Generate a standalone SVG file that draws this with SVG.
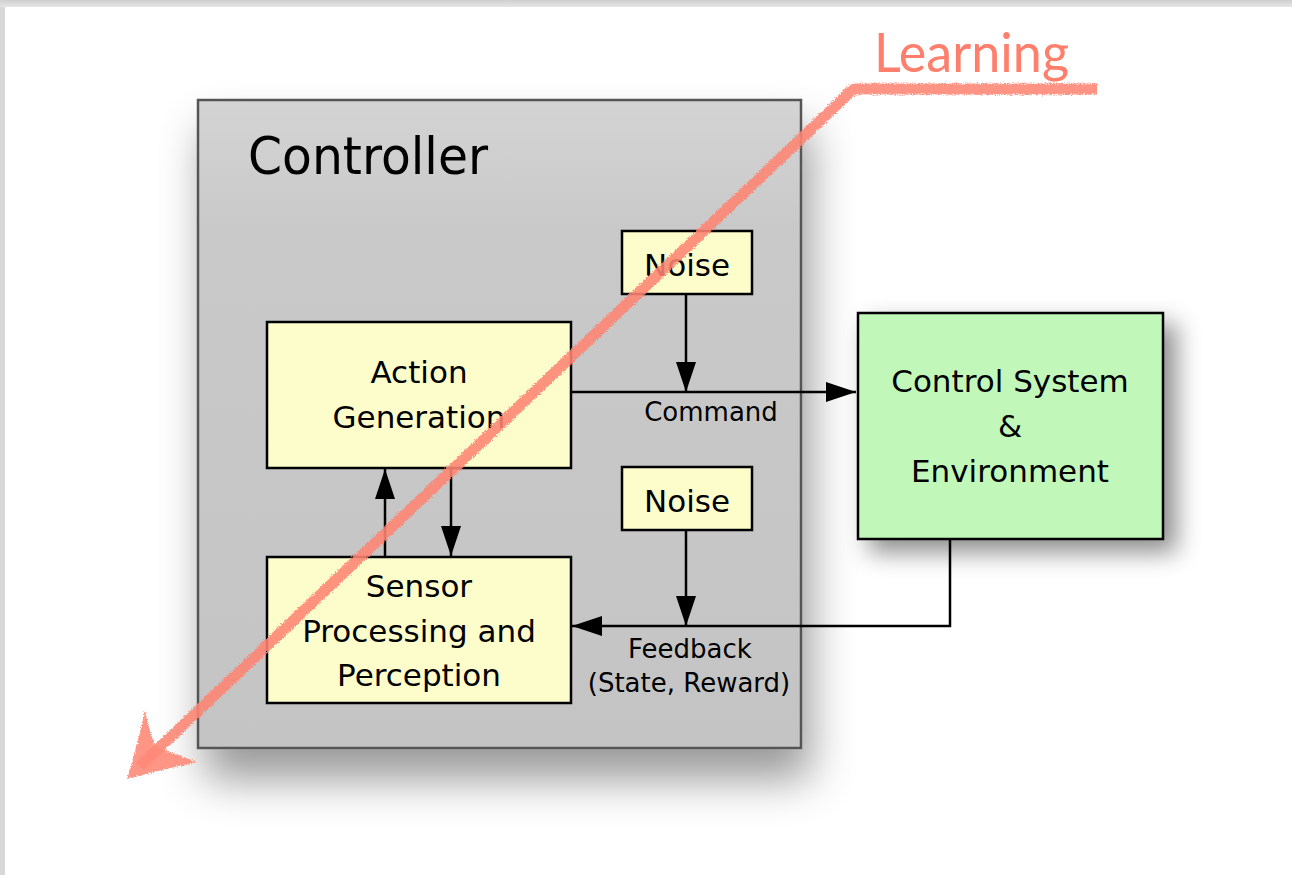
<svg xmlns="http://www.w3.org/2000/svg" width="1292" height="875" viewBox="0 0 1292 875">
  <defs>
    <linearGradient id="ctrlFill" x1="0" y1="0" x2="0" y2="1">
      <stop offset="0" stop-color="#d4d4d4"/>
      <stop offset="0.2" stop-color="#c9c9c9"/>
      <stop offset="1" stop-color="#c4c4c4"/>
    </linearGradient>
    <linearGradient id="topEdge" x1="0" y1="0" x2="0" y2="1">
      <stop offset="0" stop-color="#cfcfcf"/>
      <stop offset="1" stop-color="#e6e6e6"/>
    </linearGradient>
    <filter id="bigShadow" x="-20%" y="-20%" width="150%" height="150%">
      <feDropShadow dx="8" dy="30" stdDeviation="22" flood-color="#000" flood-opacity="0.4"/>
    </filter>
    <filter id="boxShadow" x="-20%" y="-20%" width="150%" height="150%">
      <feDropShadow dx="12" dy="12" stdDeviation="12" flood-color="#000" flood-opacity="0.45"/>
    </filter>
    <filter id="rough" x="-10%" y="-10%" width="120%" height="120%">
      <feTurbulence type="fractalNoise" baseFrequency="0.9" numOctaves="2" seed="3" result="n"/>
      <feDisplacementMap in="SourceGraphic" in2="n" scale="5" xChannelSelector="R" yChannelSelector="G"/>
    </filter>
    <marker id="arrow" viewBox="0 0 30 20" refX="30" refY="10" markerWidth="30" markerHeight="20" markerUnits="userSpaceOnUse" orient="auto">
      <path d="M0,0 L30,10 L0,20 Z" fill="#000"/>
    </marker>
    <style>
      .box { fill: #fdfdcc; stroke: #000; stroke-width: 2.5; }
      .lbl { font-family: "DejaVu Sans", "Liberation Sans", sans-serif; fill: #000; text-anchor: middle; }
      .big { font-size: 31px; }
      .small { font-size: 26px; }
      .conn { stroke: #000; stroke-width: 2.5; fill: none; }
      .brush { stroke: #ff8472; stroke-linecap: butt; stroke-linejoin: round; fill: none; opacity: 0.88; }
    </style>
  </defs>

  <!-- page -->
  <rect x="0" y="0" width="1292" height="875" fill="#d8d8d8"/>
  <rect x="0" y="0" width="1292" height="7" fill="url(#topEdge)"/>
  <rect x="5" y="7" width="1287" height="868" fill="#ffffff"/>

  <!-- Controller -->
  <g id="controller">
    <rect x="198" y="100" width="603" height="648" fill="url(#ctrlFill)" stroke="#555" stroke-width="2.5" filter="url(#bigShadow)"/>
    <text x="248" y="174" font-family="DejaVu Sans, Liberation Sans, sans-serif" font-size="52" textLength="240" lengthAdjust="spacingAndGlyphs" fill="#000">Controller</text>
  </g>

  <!-- Control System & Environment -->
  <g id="control-system">
    <rect x="858" y="313" width="305" height="226" fill="#c1f8b9" stroke="#000" stroke-width="2.5" filter="url(#boxShadow)"/>
    <text class="lbl big" x="1010" y="392">Control System</text>
    <text class="lbl big" x="1010" y="437">&amp;</text>
    <text class="lbl big" x="1010" y="482">Environment</text>
  </g>

  <g id="noise-top">
    <rect class="box" x="622" y="231" width="130" height="63"/>
    <text class="lbl big" x="687" y="276">Noise</text>
  </g>

  <g id="noise-bottom">
    <rect class="box" x="622" y="467" width="130" height="63"/>
    <text class="lbl big" x="687" y="512">Noise</text>
  </g>

  <g id="action-generation">
    <rect class="box" x="267" y="322" width="304" height="146"/>
    <text class="lbl big" x="419" y="383">Action</text>
    <text class="lbl big" x="419" y="428">Generation</text>
  </g>

  <g id="sensor-processing">
    <rect class="box" x="267" y="557" width="304" height="146"/>
    <text class="lbl big" x="419" y="597">Sensor</text>
    <text class="lbl big" x="419" y="642">Processing and</text>
    <text class="lbl big" x="419" y="686">Perception</text>
  </g>

  <!-- connectors -->
  <g id="connectors">
    <line class="conn" x1="571" y1="392" x2="856" y2="392" marker-end="url(#arrow)"/>
    <line class="conn" x1="686" y1="294" x2="686" y2="392" marker-end="url(#arrow)"/>
    <polyline class="conn" points="950,539 950,626 572,626" marker-end="url(#arrow)"/>
    <line class="conn" x1="686" y1="530" x2="686" y2="626" marker-end="url(#arrow)"/>
    <line class="conn" x1="385" y1="557" x2="385" y2="469" marker-end="url(#arrow)"/>
    <line class="conn" x1="451" y1="468" x2="451" y2="556" marker-end="url(#arrow)"/>
    <text class="lbl small" x="711" y="421">Command</text>
    <text class="lbl small" x="690" y="658">Feedback</text>
    <text class="lbl small" x="689" y="692">(State, Reward)</text>
  </g>

  <!-- Learning annotation -->
  <g id="learning">
    <text x="874" y="72" font-family="Lato, Open Sans, sans-serif" font-size="54" textLength="195" lengthAdjust="spacingAndGlyphs" fill="#ff7f6c">Learning</text>
    <g filter="url(#rough)">
      <path class="brush" d="M1097,89 L900,89 L856,89 Q850,90 845,97 L140,766" stroke-width="11"/>
      <path d="M145,710 Q150,735 156,747 L197,762 Q160,770 127,779 Q138,745 145,710 Z" fill="#ff8a78" opacity="0.9"/>
    </g>
  </g>
</svg>
